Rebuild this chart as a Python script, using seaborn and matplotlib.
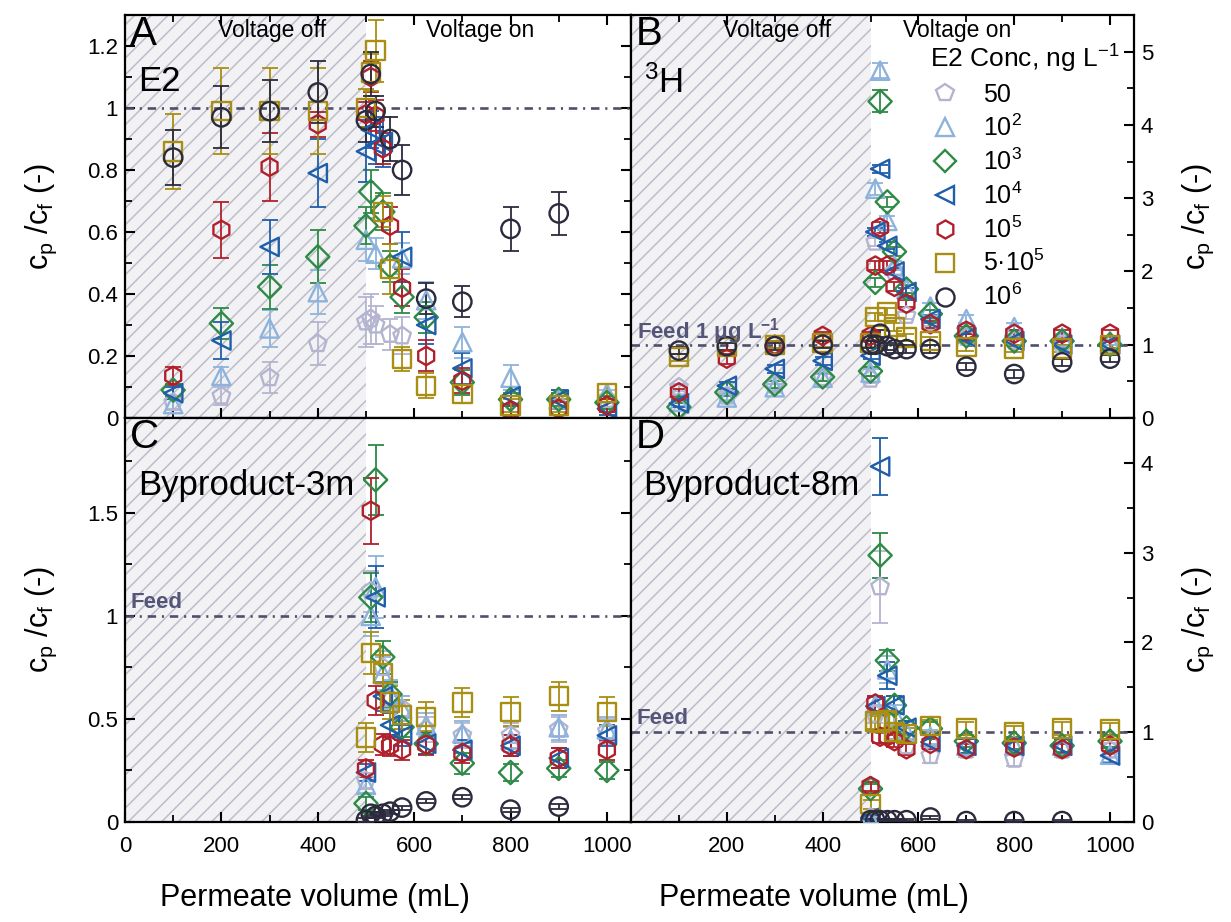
import numpy as np
import matplotlib
matplotlib.use("Agg")
import matplotlib.pyplot as plt
import seaborn as sns
from matplotlib.lines import Line2D
from matplotlib.ticker import MultipleLocator, FuncFormatter, FixedLocator

nan = np.nan

# ---------------- data ----------------
CONC_LABELS = ["50", "10$^2$", "10$^3$", "10$^4$", "10$^5$", "5·10$^5$", "10$^6$"]
COLORS = ["#b4b4d0", "#8db3dc", "#2e8a46", "#1f5eaa", "#b11f2b", "#a88e12", "#2b2b3d"]
MARKERS = ["p", "^", "D", "<", "h", "s", "o"]

X_VOL = [100, 200, 300, 400, 500, 510, 520, 535, 550, 575, 625, 700, 800, 900, 1000]

# Panel A : E2
A_VALUES = [
    [0.05, 0.071, 0.13, 0.24, 0.31, 0.32, 0.30, nan, 0.27, 0.265, nan, nan, nan, nan, 0.06],
    [0.045, 0.136, 0.289, 0.406, 0.575, nan, 0.53, nan, nan, 0.515, 0.38, 0.245, 0.13, 0.06, 0.08],
    [0.09, 0.305, 0.423, 0.52, 0.62, 0.73, nan, 0.665, 0.49, 0.39, 0.325, 0.115, 0.06, 0.06, 0.05],
    [0.08, 0.25, 0.552, 0.79, 0.86, 0.93, 0.88, 0.89, nan, 0.52, 0.30, 0.16, 0.07, 0.06, 0.03],
    [0.136, 0.607, 0.81, 0.948, 0.98, 1.10, 0.975, 0.87, 0.62, 0.42, 0.20, 0.12, 0.025, 0.03, 0.04],
    [0.86, 0.99, 0.99, 0.99, 1.00, 1.115, 1.185, 0.665, 0.48, 0.19, 0.104, 0.077, 0.04, 0.04, 0.08],
    [0.84, 0.97, 0.99, 1.05, 0.96, 1.11, 0.99, nan, 0.90, 0.80, 0.385, 0.375, 0.61, 0.66, nan],
]
A_ERRORS = [
    [0.02, 0.03, 0.05, 0.07, 0.08, 0.08, 0.06, nan, 0.05, 0.06, nan, nan, nan, nan, 0.03],
    [0.02, 0.03, 0.06, 0.07, 0.07, nan, 0.05, nan, nan, 0.05, 0.06, 0.05, 0.04, 0.03, 0.03],
    [0.02, 0.05, 0.07, 0.085, 0.06, 0.07, nan, 0.06, 0.05, 0.05, 0.05, 0.04, 0.02, 0.02, 0.02],
    [0.02, 0.06, 0.087, 0.11, 0.10, 0.06, 0.06, 0.08, nan, 0.08, 0.06, 0.05, 0.03, 0.03, 0.02],
    [0.03, 0.09, 0.11, 0.04, 0.04, 0.05, 0.05, 0.05, 0.06, 0.06, 0.05, 0.04, 0.02, 0.02, 0.02],
    [0.12, 0.14, 0.14, 0.14, 0.06, 0.06, 0.10, 0.05, 0.08, 0.04, 0.04, 0.03, 0.02, 0.02, 0.03],
    [0.09, 0.10, 0.10, 0.10, 0.07, 0.07, 0.05, nan, 0.07, 0.08, 0.05, 0.05, 0.07, 0.07, nan],
]

# Panel B : 3H
B_VALUES = [
    [0.42, 0.30, 0.45, 0.55, 0.53, 2.40, nan, nan, 2.00, 1.40, 1.30, 1.10, 1.05, 1.00, 1.00],
    [0.22, 0.28, 0.42, 0.55, 0.62, 3.13, 4.74, 2.69, 2.08, 1.76, 1.52, 1.35, 1.24, 1.10, 1.05],
    [0.15, 0.35, 0.46, 0.56, 0.64, 1.85, 4.32, 2.95, 2.27, 1.76, 1.42, 1.12, 1.05, 1.05, 1.00],
    [0.20, 0.44, 0.67, 0.78, 0.85, 2.54, 3.40, 2.35, 2.00, 1.72, 1.35, 1.10, 1.05, 1.00, 1.00],
    [0.35, 0.81, 1.00, 1.12, 1.12, 2.08, 2.60, 2.08, 1.79, 1.56, 1.28, 1.19, 1.15, 1.15, 1.15],
    [0.83, 0.97, 1.00, 1.02, 1.02, 1.38, nan, 1.45, 1.24, 1.10, 1.05, 0.97, 0.95, 0.95, 1.00],
    [0.92, 0.98, 0.98, 1.00, 1.00, 1.00, 1.15, 0.98, 0.94, 0.94, 0.94, 0.70, 0.60, 0.76, 0.81],
]
B_ERRORS = [
    [0.05] * 15,
    [0.05, 0.05, 0.05, 0.05, 0.05, 0.08, 0.10, 0.07, 0.06, 0.05, 0.05, 0.05, 0.05, 0.05, 0.05],
    [0.05, 0.05, 0.05, 0.05, 0.06, 0.06, 0.15, 0.07, 0.06, 0.05, 0.05, 0.05, 0.05, 0.05, 0.05],
    [0.05] * 15,
    [0.05, 0.07, 0.05, 0.05, 0.05, 0.06, 0.07, 0.06, 0.06, 0.05, 0.05, 0.05, 0.05, 0.05, 0.05],
    [0.05] * 15,
    [0.05] * 15,
]

# Panel C : Byproduct-3m
C_VALUES = [
    [nan, nan, nan, nan, 0.20, 1.12, nan, 0.75, 0.60, 0.55, 0.45, 0.42, 0.42, 0.45, 0.44],
    [nan, nan, nan, nan, 0.18, 1.00, 1.14, 0.72, 0.62, 0.55, 0.47, 0.43, 0.40, 0.46, 0.45],
    [nan, nan, nan, nan, 0.09, 1.09, 1.66, 0.80, 0.62, 0.46, 0.38, 0.285, 0.24, 0.26, 0.25],
    [nan, nan, nan, nan, 0.24, nan, 1.09, 0.61, 0.47, 0.42, 0.38, 0.35, 0.37, 0.31, 0.42],
    [nan, nan, nan, nan, 0.26, 1.51, 0.59, 0.375, 0.37, 0.35, 0.375, 0.335, 0.37, 0.31, 0.35],
    [nan, nan, nan, nan, 0.41, 0.82, nan, 0.72, 0.58, 0.52, 0.51, 0.58, 0.535, 0.61, 0.535],
    [nan, nan, nan, nan, 0.01, 0.04, 0.03, 0.04, 0.05, 0.07, 0.10, 0.12, 0.06, 0.075, nan],
]
C_ERRORS = [
    [nan, nan, nan, nan, 0.04, 0.10, nan, 0.08, 0.07, 0.06, 0.06, 0.06, 0.06, 0.06, 0.06],
    [nan, nan, nan, nan, 0.04, 0.10, 0.15, 0.08, 0.07, 0.06, 0.06, 0.06, 0.06, 0.06, 0.06],
    [nan, nan, nan, nan, 0.03, 0.12, 0.17, 0.08, 0.06, 0.05, 0.05, 0.05, 0.04, 0.04, 0.04],
    [nan, nan, nan, nan, 0.04, nan, 0.15, 0.07, 0.06, 0.05, 0.05, 0.05, 0.05, 0.05, 0.05],
    [nan, nan, nan, nan, 0.04, 0.16, 0.07, 0.05, 0.05, 0.05, 0.05, 0.05, 0.05, 0.05, 0.05],
    [nan, nan, nan, nan, 0.07, 0.10, nan, 0.09, 0.08, 0.07, 0.07, 0.07, 0.07, 0.07, 0.07],
    [nan, nan, nan, nan, 0.01, 0.01, 0.01, 0.01, 0.01, 0.01, 0.01, 0.01, 0.01, 0.01, nan],
]

# Panel D : Byproduct-8m
D_VALUES = [
    [nan, nan, nan, nan, 0.05, 1.20, 2.62, nan, 1.00, 0.85, 0.74, 0.80, 0.70, 0.80, 0.80],
    [nan, nan, nan, nan, 0.03, 1.30, nan, 1.70, 1.20, 1.00, 0.95, 0.85, 0.85, 0.85, 0.75],
    [nan, nan, nan, nan, 0.37, nan, 2.97, 1.80, 1.30, 1.05, 1.04, 0.90, 0.88, 0.85, 0.90],
    [nan, nan, nan, nan, 0.05, 1.29, 3.96, 1.63, 1.30, 1.05, 0.89, 0.85, 0.85, 0.85, 0.74],
    [nan, nan, nan, nan, 0.40, 1.32, 0.95, 0.95, 0.90, 0.81, 0.87, 0.81, 0.83, 0.81, 0.85],
    [nan, nan, nan, nan, 0.20, 1.12, 1.10, 1.13, 1.00, 0.98, 1.07, 1.04, 1.00, 1.04, 1.03],
    [nan, nan, nan, nan, 0.02, 0.02, 0.02, 0.02, 0.02, 0.02, 0.05, 0.01, 0.01, 0.01, nan],
]
D_ERRORS = [
    [nan, nan, nan, nan, 0.03, 0.10, 0.40, nan, 0.08, 0.08, 0.08, 0.08, 0.08, 0.08, 0.08],
    [nan, nan, nan, nan, 0.03, 0.10, nan, 0.15, 0.10, 0.08, 0.08, 0.08, 0.08, 0.08, 0.08],
    [nan, nan, nan, nan, 0.05, nan, 0.25, 0.12, 0.10, 0.08, 0.07, 0.07, 0.07, 0.07, 0.07],
    [nan, nan, nan, nan, 0.03, 0.10, 0.32, 0.15, 0.10, 0.08, 0.08, 0.08, 0.08, 0.08, 0.08],
    [nan, nan, nan, nan, 0.05, 0.08, 0.07, 0.07, 0.07, 0.06, 0.06, 0.06, 0.06, 0.06, 0.06],
    [nan, nan, nan, nan, 0.05, 0.08, 0.08, 0.08, 0.07, 0.07, 0.07, 0.07, 0.07, 0.07, 0.07],
    [nan, nan, nan, nan, 0.01, 0.01, 0.01, 0.01, 0.01, 0.01, 0.02, 0.01, 0.01, 0.01, nan],
]

# ---------------- style ----------------
sns.set_theme(style="ticks")
plt.rcParams['font.family'] = ['Liberation Sans', 'DejaVu Sans']
plt.rcParams['mathtext.fontset'] = 'custom'
plt.rcParams['mathtext.rm'] = 'Liberation Sans'
plt.rcParams['mathtext.it'] = 'Liberation Sans:italic'
plt.rcParams['mathtext.bf'] = 'Liberation Sans:bold'
plt.rcParams['hatch.linewidth'] = 1.1
plt.rcParams['text.color'] = 'black'
plt.rcParams['axes.labelcolor'] = 'black'
plt.rcParams['xtick.color'] = 'black'
plt.rcParams['ytick.color'] = 'black'
plt.rcParams['legend.labelcolor'] = 'black'

HATCH_FACE = "#f2f2f5"
HATCH_LINE = "#bdbdca"
FEED_COLOR = "#4f4f6c"

fig = plt.figure(figsize=(12.31, 9.22), dpi=100)
W, H = 1231.0, 922.0
L, M, R = 125 / W, 631 / W, 1134 / W
T, MY, BT = 1 - 15 / H, 1 - 418 / H, 1 - 822 / H

axA = fig.add_axes([L, MY, M - L, T - MY])
axB = fig.add_axes([M, MY, R - M, T - MY])
axC = fig.add_axes([L, BT, M - L, MY - BT])
axD = fig.add_axes([M, BT, R - M, MY - BT])

fmt = FuncFormatter(lambda v, p: f"{v:g}")


def draw(ax, values, errors):
    xs = np.array(X_VOL, float)
    for i in range(len(CONC_LABELS)):
        y = np.array(values[i], float)
        e = np.array(errors[i], float)
        m = ~np.isnan(y)
        e = np.nan_to_num(e)
        ax.errorbar(xs[m], y[m], yerr=e[m], fmt='none', ecolor=COLORS[i],
                    elinewidth=1.3, capsize=6, capthick=1.3, zorder=3)
        size = 140 if MARKERS[i] == "D" else 175
        sns.scatterplot(x=xs[m], y=y[m], ax=ax, marker=MARKERS[i], s=size,
                        color=COLORS[i], facecolor='none', edgecolor=COLORS[i],
                        linewidth=1.7, zorder=4, legend=False)


def base(ax, ylim, major, minor):
    ax.set_xlim(0, 1050)
    ax.set_ylim(*ylim)
    ax.axvspan(0, 500, facecolor=HATCH_FACE, edgecolor=HATCH_LINE, hatch='//',
               linewidth=0, zorder=0)
    ax.axhline(1.0, color=FEED_COLOR, lw=1.9, ls=(0, (3.2, 2.2, 0.8, 2.2)), zorder=2)
    ax.yaxis.set_major_locator(MultipleLocator(major))
    ax.yaxis.set_minor_locator(MultipleLocator(minor))
    ax.yaxis.set_major_formatter(fmt)
    ax.xaxis.set_major_locator(MultipleLocator(200))
    ax.xaxis.set_minor_locator(MultipleLocator(100))
    ax.xaxis.set_major_formatter(fmt)
    for s in ax.spines.values():
        s.set_linewidth(1.6)
        s.set_color("black")
    ax.tick_params(which='major', direction='in', length=7, width=1.5,
                   labelsize=16, colors='black', pad=5)
    ax.tick_params(which='minor', direction='in', length=5, width=1.3, colors='black')
    ax.set_xlabel("")
    ax.set_ylabel("")


base(axA, (0, 1.3), 0.2, 0.1)
base(axB, (0, 5.5), 1, 0.5)
base(axC, (0, 1.96), 0.5, 0.25)
base(axD, (0, 4.5), 1, 0.5)

draw(axA, A_VALUES, A_ERRORS)
draw(axB, B_VALUES, B_ERRORS)
draw(axC, C_VALUES, C_ERRORS)
draw(axD, D_VALUES, D_ERRORS)

for ax in (axA, axB, axC, axD):
    ax.set_xlim(0, 1050)

YLABEL = "c$_\\mathrm{p}$ /c$_\\mathrm{f}$ (-)"
XLABEL = "Permeate volume (mL)"

# tick sides
axA.tick_params(which='both', left=True, right=True, top=True, bottom=True,
                labelleft=True, labelright=False, labelbottom=False)
axB.tick_params(which='both', left=False, right=True, top=True, bottom=True,
                labelleft=False, labelright=True, labelbottom=False)
axC.tick_params(which='both', left=True, right=True, top=False, bottom=True,
                labelleft=True, labelright=False, labelbottom=True)
axD.tick_params(which='both', left=False, right=True, top=False, bottom=True,
                labelleft=False, labelright=True, labelbottom=True)
axD.xaxis.set_major_locator(FixedLocator([200, 400, 600, 800, 1000]))
axC.tick_params(axis='x', pad=10)
axD.tick_params(axis='x', pad=10)

for ax in (axA, axC):
    ax.set_ylabel(YLABEL, fontsize=22, labelpad=20, color='black')
for ax in (axB, axD):
    ax.yaxis.set_label_position('right')
    ax.set_ylabel(YLABEL, fontsize=22, labelpad=20, rotation=90, color='black')
for ax, xc in ((axC, 0.375), (axD, 0.364)):
    ax.set_xlabel(XLABEL, fontsize=22, color='black')
    ax.xaxis.set_label_coords(xc, -0.15)

# panel texts
for ax, letter, name in ((axA, "A", "E2"), (axB, "B", "$^3$H"),
                         (axC, "C", "Byproduct-3m"), (axD, "D", "Byproduct-8m")):
    ax.text(0.01, 1.0, letter, transform=ax.transAxes, fontsize=29, color='black',
            ha='left', va='top', zorder=6)
    ax.text(0.025, 0.875, name, transform=ax.transAxes, fontsize=25, color='black',
            ha='left', va='top', zorder=6)

for ax, xon in ((axA, 736), (axB, 680)):
    ax.text(305, 0.99, "Voltage off", transform=ax.get_xaxis_transform(),
            fontsize=16.5, ha='center', va='top', zorder=6, color='black')
    ax.text(xon, 0.99, "Voltage on", transform=ax.get_xaxis_transform(),
            fontsize=16.5, ha='center', va='top', zorder=6, color='black')

axB.text(12, 1.08, "Feed 1 μg L$^{\\mathbf{-1}}$", fontsize=16, fontweight='bold',
         color="#55557a", ha='left', va='baseline', zorder=6)
axC.text(12, 1.04, "Feed", fontsize=16, fontweight='bold',
         color="#55557a", ha='left', va='baseline', zorder=6)
axD.text(12, 1.09, "Feed", fontsize=16, fontweight='bold',
         color="#55557a", ha='left', va='baseline', zorder=6)

# legend
handles = [Line2D([], [], ls='none', marker=MARKERS[i], markersize=13 if MARKERS[i] != "D" else 11,
                  markerfacecolor='none', markeredgecolor=COLORS[i], markeredgewidth=1.7)
           for i in range(len(CONC_LABELS))]
leg = axB.legend(handles, CONC_LABELS, title="E2 Conc, ng L$^{-1}$", frameon=False,
                 loc='upper left', bbox_to_anchor=(0.595, 0.93), fontsize=18,
                 title_fontsize=19, alignment='left', handlelength=1.2,
                 handletextpad=0.9, labelspacing=0.30, borderpad=0.0, borderaxespad=0)
leg.get_title().set_color('black')
leg.set_zorder(7)

fig.savefig("out.png", dpi=100)
